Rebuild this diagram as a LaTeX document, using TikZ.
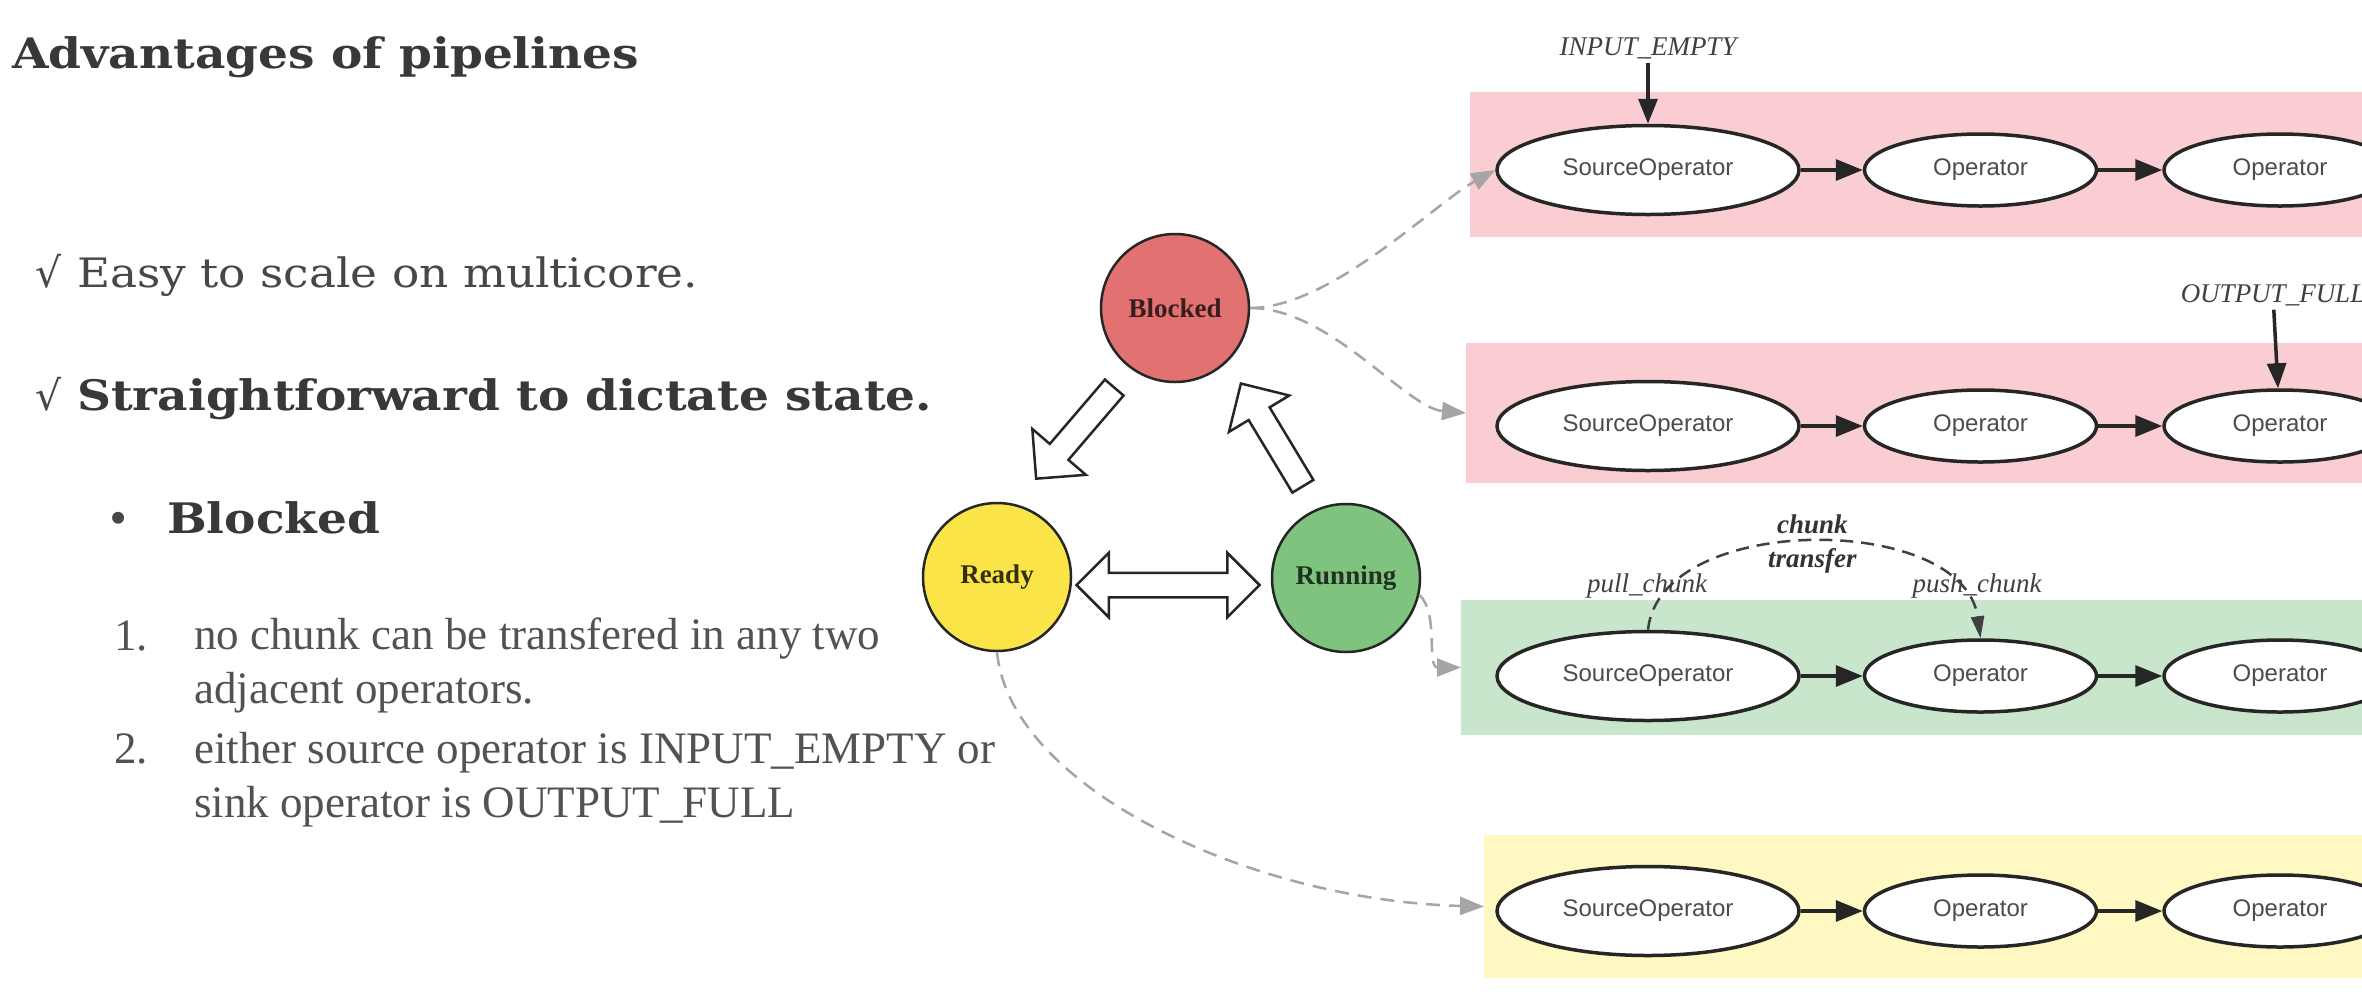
\documentclass[tikz,border=0pt]{standalone}
\usepackage{fontspec}
\setmainfont{Liberation Serif}
\newfontfamily\slidefont{DejaVu Serif}[FakeStretch=1.12]
\newfontfamily\symbolfont{DejaVu Sans}
\newfontfamily\graphfont{Liberation Sans}
\usetikzlibrary{positioning, arrows.meta, calc, shapes.geometric, shapes.arrows}

\definecolor{blockedfill}{RGB}{226,114,114}
\definecolor{readyfill}{RGB}{250,228,72}
\definecolor{runningfill}{RGB}{126,196,126}
\definecolor{lanepink}{RGB}{250,205,211}
\definecolor{lanegreen}{RGB}{200,230,203}
\definecolor{laneyellow}{RGB}{255,248,194}
\definecolor{linkgray}{RGB}{165,165,165}

\begin{document}
\begin{tikzpicture}[x=1pt, y=-1pt,
  state/.style={draw=black!85, circle, line width=2.5pt, minimum size=148pt,
    inner sep=0pt, font=\bfseries\fontsize{27}{30}\selectfont},
  lane/.style={anchor=north west, inner sep=0pt, outer sep=0pt},
  op/.style={draw=black!85, ellipse, fill=white, line width=3.5pt,
    minimum width=232pt, minimum height=72pt, inner sep=0pt,
    font=\graphfont\fontsize{24}{28}\selectfont, text=black!70},
  srcop/.style={op, minimum width=302pt, minimum height=89pt},
  flow/.style={-{Triangle[length=27pt, width=21pt]}, line width=3.5pt, draw=black!85},
  flag/.style={font=\itshape\fontsize{27}{30}\selectfont, text=black!75,
    inner sep=4pt, anchor=base},
  link/.style={-{Triangle[length=24pt, width=18pt]}, draw=linkgray,
    line width=2.5pt, dash pattern=on 14pt off 9pt},
  transfer/.style={-{Triangle[length=22pt, width=13pt]}, draw=black!75,
    line width=2.5pt, dash pattern=on 13pt off 8pt},
  bigarrow/.style={single arrow, draw=black!85, fill=white, line width=2.5pt,
    inner xsep=0pt, inner ysep=11pt, single arrow tip angle=90,
    single arrow head extend=23pt, minimum height=120pt},
  twinarrow/.style={double arrow, draw=black!85, fill=white, line width=2.5pt,
    inner xsep=0pt, inner ysep=11pt, double arrow tip angle=90,
    double arrow head extend=20pt, minimum height=183pt},
  headline/.style={anchor=base west, inner sep=0pt,
    font=\slidefont\fontsize{40.5}{48}\selectfont, text=black!72},
  strongline/.style={anchor=base west, inner sep=0pt,
    font=\slidefont\bfseries\fontsize{42}{48}\selectfont, text=black!78},
  tickmark/.style={anchor=base west, inner sep=0pt,
    font=\symbolfont\fontsize{41}{48}\selectfont, text=black!72},
  itemline/.style={anchor=base west, inner sep=0pt, align=left, text=black!68,
    font=\fontsize{45}{54}\selectfont}]

\fill[white] (0,0) rectangle (2362,997);
\useasboundingbox (0,0) rectangle (2362,997);

% --- Slide text ---
\node[strongline] (title) at (12,68) {Advantages of pipelines};
\node[tickmark] (tick1) at (35,287) {√};
\node[headline] (easy) at (77,287) {Easy to scale on multicore.};
\node[tickmark] (tick2) at (35,410) {√};
\node[strongline] (dictate) at (77,410) {Straightforward to dictate state.};
\node[tickmark] (dot) at (106,533) {•};
\node[strongline] (blockedhead) at (167,533) {Blocked};
% multi-line nodes sit on the baseline of their last line
\node[itemline] (num1) at (114,650) {1.};
\node[itemline] (item1) at (194,703) {no chunk can be transfered in any two\\adjacent operators.};
\node[itemline] (num2) at (114,763) {2.};
\node[itemline] (item2) at (194,817) {either source operator is INPUT\_EMPTY or\\sink operator is OUTPUT\_FULL};

% --- Lanes ---
\node[lane, fill=lanepink, minimum width=892pt, minimum height=145pt] (lane1) at (1470,92) {};
\node[lane, fill=lanepink, minimum width=896pt, minimum height=140pt] (lane2) at (1466,343) {};
\node[lane, fill=lanegreen, minimum width=901pt, minimum height=135pt] (lane3) at (1461,600) {};
\node[lane, fill=laneyellow, minimum width=878pt, minimum height=143pt] (lane4) at (1484,835) {};

% --- States ---
\node[state, fill=blockedfill, text=blockedfill!25!black] (blocked) at (1175,308) {Blocked};
\node[state, fill=readyfill, text=readyfill!20!black] (ready) at (997,577) {Ready};
\node[state, fill=runningfill, text=runningfill!25!black] (running) at (1346,578) {Running};

% --- Transitions ---
\node[bigarrow, rotate=229.4, anchor=tip] (toready) at (1035,480) {};
\node[bigarrow, rotate=121.1, anchor=tip] (toblocked) at (1240,382) {};
\node[twinarrow] (swap) at (1168,585) {};

% --- Lane 1 ---
\node[srcop] (src1) at (1648,170) {SourceOperator};
\node[op, right=62pt of src1] (opa1) {Operator};
\node[op, right=64pt of opa1] (opb1) {Operator};

% --- Lane 2 ---
\node[srcop] (src2) at (1648,426) {SourceOperator};
\node[op, right=62pt of src2] (opa2) {Operator};
\node[op, right=64pt of opa2] (opb2) {Operator};

% --- Lane 3 ---
\node[srcop] (src3) at (1648,676) {SourceOperator};
\node[op, right=62pt of src3] (opa3) {Operator};
\node[op, right=64pt of opa3] (opb3) {Operator};

% --- Lane 4 ---
\node[srcop] (src4) at (1648,911) {SourceOperator};
\node[op, right=62pt of src4] (opa4) {Operator};
\node[op, right=64pt of opa4] (opb4) {Operator};

% --- Chains ---
\draw[flow] (src1) -- (opa1);
\draw[flow] (opa1) -- (opb1);
\draw[flow] (src2) -- (opa2);
\draw[flow] (opa2) -- (opb2);
\draw[flow] (src3) -- (opa3);
\draw[flow] (opa3) -- (opb3);
\draw[flow] (src4) -- (opa4);
\draw[flow] (opa4) -- (opb4);

% --- Blocking flags ---
\node[flag] (inputempty) at (1648,55) {INPUT\_EMPTY};
\node[flag] (outputfull) at (2273,302) {OUTPUT\_FULL};
\draw[flow, -{Triangle[length=25pt, width=19pt]}] (inputempty) -- (src1);
\draw[flow, -{Triangle[length=25pt, width=19pt]}] (outputfull) -- (opb2);

% --- Chunk transfer ---
\node[flag] (pull) at (1647,592) {pull\_chunk};
\node[flag] (push) at (1977,592) {push\_chunk};
\draw[transfer] (src3.north) .. controls +(12,-118) and +(-17,-126) ..
  node[pos=0.5, yshift=-1pt, align=center, text=black!80,
    font=\bfseries\itshape\fontsize{27}{34}\selectfont] (xfer) {chunk\\transfer} (opa3.north);

% --- State to lane links ---
\draw[link] (blocked.east) .. controls +(80,0) and +(-60,33) .. (src1.west);
\draw[link] (blocked.east) .. controls +(80,0) and +(-60,-5) .. (lane2.west);
\draw[link] (running.-13) .. controls +(20,18) and +(-35,0) .. (lane3.west);
\draw[link] (ready.south) .. controls +(13,135) and +(-234,-6) .. (lane4.west);

\end{tikzpicture}
\end{document}
